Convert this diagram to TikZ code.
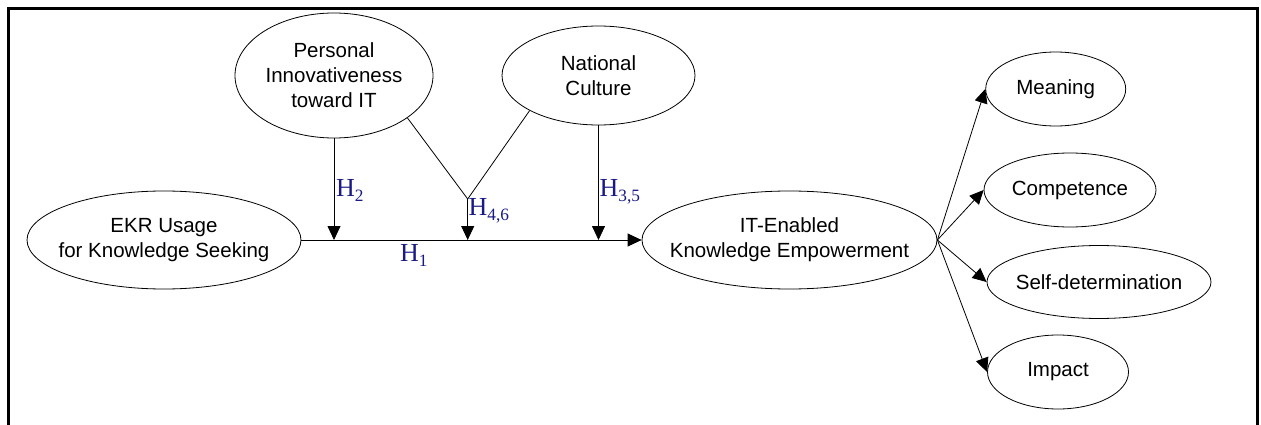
\documentclass[tikz,border=0pt]{standalone}
\usepackage{fontspec}
\setmainfont{Liberation Sans}
\newfontfamily\hypfont{Liberation Serif}
\usetikzlibrary{shapes.geometric,arrows.meta}
\definecolor{hypblue}{RGB}{25,25,135}

\tikzset{
  oval/.style={draw, ellipse, line width=0.8pt, inner sep=0pt},
  txt/.style={align=center, inner sep=0pt, font=\fontsize{20.5}{25}\selectfont},
  link/.style={line width=0.8pt},
  arr/.style={link, -{Triangle[length=14pt,width=13pt]}},
  hyp/.style={text=hypblue, inner sep=0pt, anchor=base west,
              font=\hypfont\fontsize{26}{30}\selectfont},
}
\newcommand{\hsub}[1]{H\raisebox{-4.3pt}{\fontsize{17.3}{18}\selectfont #1}}

\begin{document}
\begin{tikzpicture}[x=1pt, y=-1pt]
\useasboundingbox (0,0) rectangle (1261,425);

% open frame
\draw[line width=2.6pt] (8.5,440) -- (8.5,8.7) -- (1257.5,8.7) -- (1257.5,440);

% constructs
\node[oval, minimum width=274pt, minimum height=98pt] (ekr) at (164,240) {};
\node[txt] (ekrt) at (ekr.center) {EKR Usage\\for Knowledge Seeking};

\node[oval, minimum width=198pt, minimum height=125pt] (pi) at (334,75.5) {};
\node[txt] (pit) at (pi.center) {Personal\\Innovativeness\\toward IT};

\node[oval, minimum width=193pt, minimum height=99pt] (nc) at (598.5,75.5) {};
\node[txt] (nct) at (nc.center) {National\\Culture};

\node[oval, minimum width=295pt, minimum height=98pt] (ite) at (789.5,240) {};
\node[txt] (itet) at (ite.center) {IT-Enabled\\Knowledge Empowerment};

\node[oval, minimum width=140pt, minimum height=74pt] (mea) at (1055.7,89) {};
\node[txt] (meat) at (mea.center) {Meaning};

\node[oval, minimum width=172pt, minimum height=74pt] (com) at (1070,190) {};
\node[txt] (comt) at (com.center) {Competence};

\node[oval, minimum width=224pt, minimum height=73pt] (sel) at (1099,282) {};
\node[txt] (selt) at (sel.center) {Self-determination};

\node[oval, minimum width=141pt, minimum height=74pt] (imp) at (1058,372) {};
\node[txt] (impt) at (imp.center) {Impact};

% junction points on the main path
\coordinate (j2)  at (334,240);
\coordinate (m46) at (467.7,199);
\coordinate (j46) at (467.7,240);
\coordinate (j35) at (598.5,240);

% main effect and moderators
\draw[arr] (ekr.east) -- (ite.west);
\draw[arr] (pi.south) -- (j2);
\draw[link] (pi.-30) -- (m46);
\draw[link] (nc.207) -- (m46);
\draw[arr] (m46) -- (j46);
\draw[arr] (nc.south) -- (j35);

% empowerment dimensions
\draw[arr] (ite.east) -- (mea.west);
\draw[arr] (ite.east) -- (com.west);
\draw[arr] (ite.east) -- (sel.west);
\draw[arr] (ite.east) -- (imp.west);

% hypothesis labels
\node[hyp] (h1)  at (400,261.7) {\hsub{1}};
\node[hyp] (h2)  at (336,196.7) {\hsub{2}};
\node[hyp] (h46) at (468.5,215.7) {\hsub{4,6}};
\node[hyp] (h35) at (599.5,196.7) {\hsub{3,5}};
\end{tikzpicture}
\end{document}
